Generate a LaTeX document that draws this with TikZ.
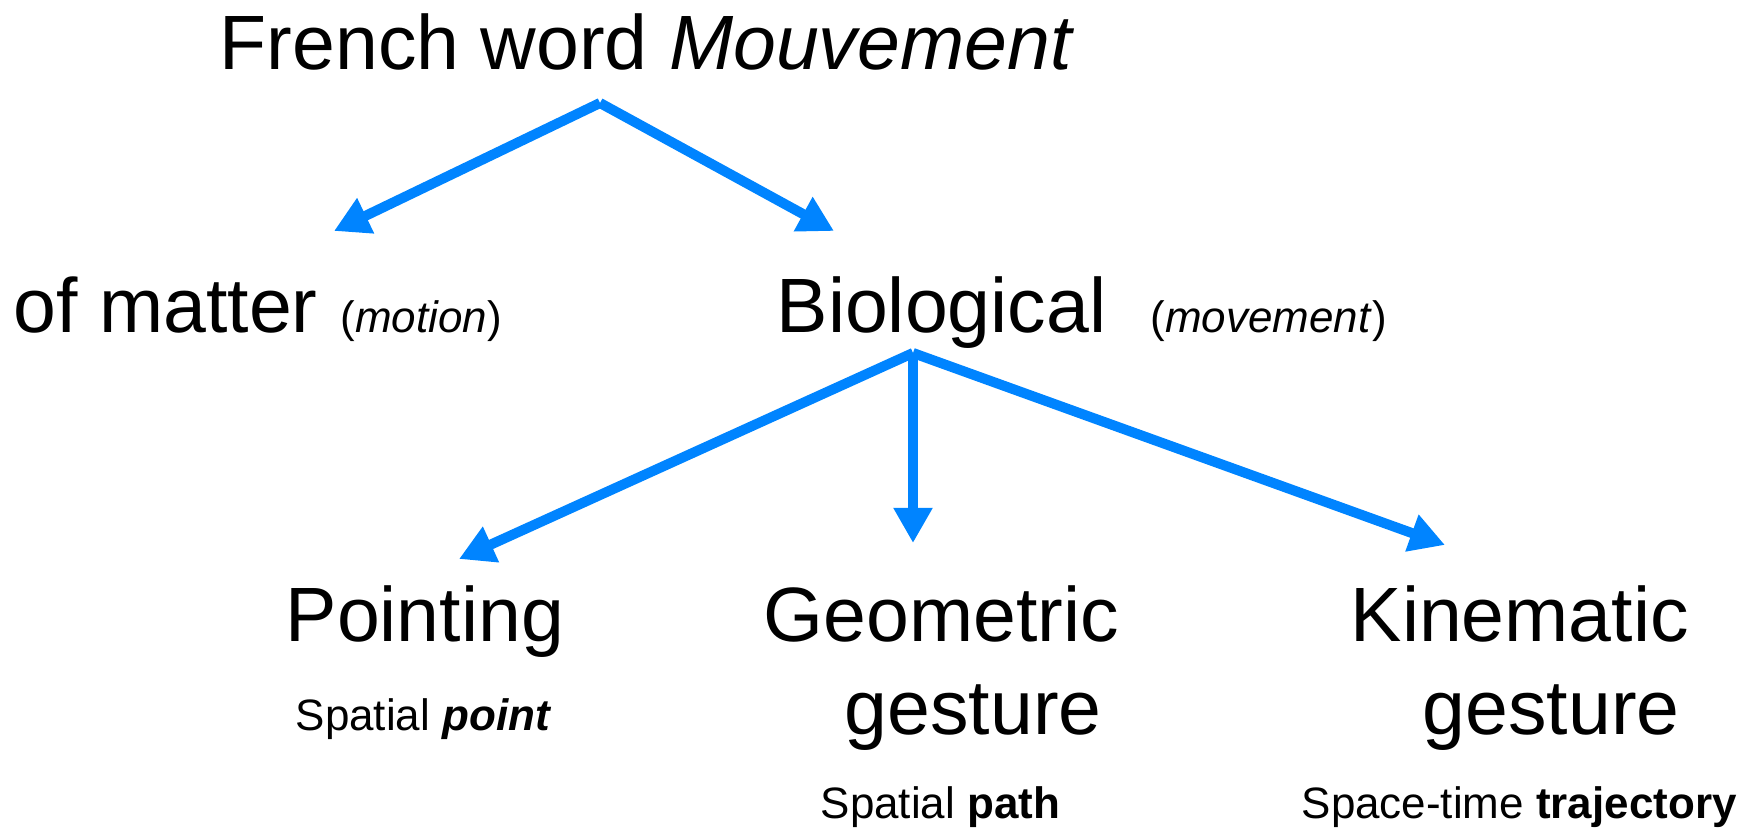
\documentclass[tikz,border=0pt]{standalone}
\usepackage{fontspec}
\setmainfont{Liberation Sans}
\usetikzlibrary{arrows.meta}
\definecolor{arrowblue}{RGB}{0,132,255}

\begin{document}
\begin{tikzpicture}[
        x=0.01cm, y=-0.01cm,
        big/.style={anchor=base west, inner sep=0pt, font=\fontsize{21.9}{26.5}\selectfont, align=left},
        note/.style={anchor=base west, inner sep=0pt, font=\fontsize{12.5}{15}\selectfont},
        link/.style={draw=arrowblue, line width=2.85pt, -{Triangle[length=10pt,width=10.5pt]}}
    ]
        \useasboundingbox (0,0) rectangle (1759,831);

        \node[big] (word) at (219,70) {French word \textit{Mouvement}};
        \node[big] (matter) at (13,333) {of matter};
        \node[note] (matternote) at (340,333) {(\textit{motion})};
        \node[big] (bio) at (776,333) {Biological};
        \node[note] (bionote) at (1150,333) {(\textit{movement})};

        \node[big] (point) at (285,642) {Pointing};
        \node[note] (pointnote) at (295,731) {Spatial \textbf{\textit{point}}};
        % two-line nodes: base is the last line
        \node[big] (geom) at (763,735) {Geometric\\\hspace*{0.81cm}gesture};
        \node[note] (geomnote) at (820,819) {Spatial \textbf{path}};
        \node[big] (kin) at (1350,735) {Kinematic\\\hspace*{0.72cm}gesture};
        \node[note] (kinnote) at (1301,819) {Space-time \textbf{trajectory}};

        \coordinate (wordsplit) at (600,103);
        \coordinate (biosplit) at (913,353);
        \coordinate (mattertip) at (334,231);
        \coordinate (biotip) at (834,231);
        \coordinate (pointtip) at (459,559);
        \coordinate (geomtip) at (913,543);
        \coordinate (kintip) at (1445,545);

        \draw[link] (wordsplit) -- (mattertip);
        \draw[link] (wordsplit) -- (biotip);
        \draw[link] (biosplit) -- (pointtip);
        \draw[link] (biosplit) -- (geomtip);
        \draw[link] (biosplit) -- (kintip);
    \end{tikzpicture}
\end{document}
